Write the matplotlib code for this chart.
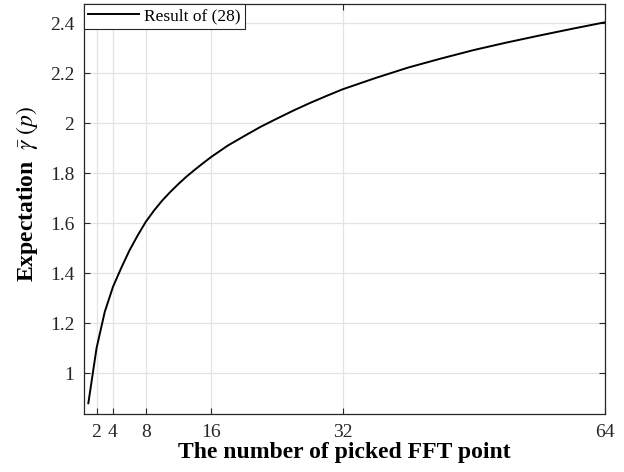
import matplotlib
matplotlib.use("Agg")
import matplotlib.pyplot as plt

# values
p_points = [1, 2, 3, 4, 5, 6, 7, 8, 9, 10, 11, 12, 13, 14, 15, 16, 18, 20, 22, 24,
            26, 28, 30, 32, 36, 40, 44, 48, 52, 56, 60, 64]
expectation = [0.88, 1.10, 1.245, 1.345, 1.42, 1.49, 1.55, 1.605, 1.65, 1.69,
               1.725, 1.757, 1.787, 1.814, 1.84, 1.865, 1.91, 1.948, 1.985, 2.018,
               2.05, 2.08, 2.108, 2.135, 2.18, 2.222, 2.258, 2.292, 2.322, 2.35,
               2.377, 2.403]
x_ticks = [2, 4, 8, 16, 32, 64]
y_ticks = [1, 1.2, 1.4, 1.6, 1.8, 2, 2.2, 2.4]
y_tick_labels = ["1", "1.2", "1.4", "1.6", "1.8", "2", "2.2", "2.4"]

plt.rcParams['font.family'] = ['Liberation Serif', 'DejaVu Serif']
plt.rcParams['mathtext.fontset'] = 'stix'

fig = plt.figure(figsize=(6.24, 4.72), dpi=100)
ax = fig.add_axes([0.1346, 0.1229, 0.835, 0.8686])

ax.plot(p_points, expectation, color='black', lw=1.4, label='Result of (28)')

ax.set_xlim(0.47, 64)
ax.set_ylim(0.837, 2.476)
ax.set_xticks(x_ticks)
ax.set_yticks(y_ticks)
ax.set_yticklabels(y_tick_labels)
ax.grid(True, color='#e3e3e3', lw=0.9)
ax.set_axisbelow(True)

ax.tick_params(direction='in', length=4, width=0.8, colors='#262626',
               labelsize=14, top=True, right=True, labelcolor='#262626', pad=7)
for s in ax.spines.values():
    s.set_color('#262626')
    s.set_linewidth(0.9)

ax.set_xlabel('The number of picked FFT point', fontsize=17, fontweight='bold', labelpad=1)
ax.set_ylabel(r'Expectation  $\bar{\gamma}\ (p)$', fontsize=17, fontweight='bold')
ax.yaxis.set_label_coords(-0.085, 0.537)

leg = ax.legend(loc='upper left', fontsize=12.5, frameon=True, fancybox=False,
                edgecolor='#262626', handlelength=2.9, borderaxespad=0.0,
                borderpad=0.25, handletextpad=0.3, framealpha=1)
leg.get_frame().set_linewidth(0.8)

fig.savefig('out.png', dpi=100)
